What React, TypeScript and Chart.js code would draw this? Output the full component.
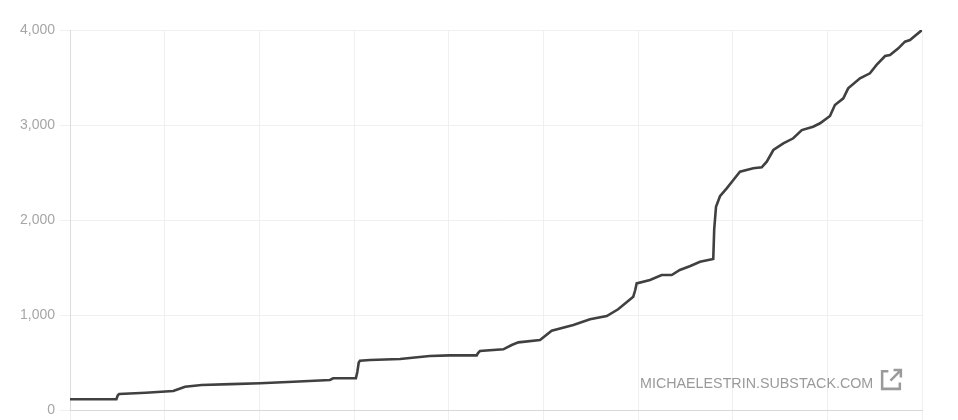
import React, { useEffect, useRef } from "react";
import { Chart, registerables } from "chart.js";

Chart.register(...registerables);

const xValues: number[] = [
  0, 49, 50.5, 52, 80, 109, 115, 121.5, 139, 170,
  200.7, 236, 274.6, 278, 302, 303.5, 305, 306.3, 317, 348.6,
  380, 401, 429.6, 431, 433, 457.7, 466.6, 473.6, 496.5, 508.8,
  531.7, 549.3, 567, 579, 595, 597, 598.6, 612.7, 625, 635.6,
  644.2, 655.3, 665.5, 679.5, 680.5, 682.4, 686.6, 693.7, 700.7, 707.7,
  721.8, 730.7, 736, 743, 753.5, 764, 773, 785, 792.3, 802.8,
  808, 816.9, 822, 834.5, 845, 852, 861, 866.2, 875, 882,
  887.3, 900,
];

const yValues: number[] = [
  113, 113, 155, 168, 182, 200, 222, 245, 263, 272,
  281, 298, 316, 334, 334, 400, 500, 519, 526, 537,
  568, 575, 575, 600, 621, 639, 684, 712, 737, 835,
  895, 955, 989, 1060, 1193, 1260, 1333, 1368, 1421, 1421,
  1474, 1516, 1561, 1589, 1900, 2140, 2250, 2333, 2421, 2509,
  2544, 2554, 2614, 2737, 2807, 2860, 2947, 2982, 3018, 3095,
  3210, 3281, 3386, 3491, 3544, 3632, 3726, 3737, 3807, 3877,
  3895, 4000,
];

const yTicks: number[] = [0, 1000, 2000, 3000, 4000];
const watermark = "MICHAELESTRIN.SUBSTACK.COM";

export default function App() {
  const ref = useRef<HTMLCanvasElement | null>(null);

  useEffect(() => {
    if (!ref.current) return;
    const points = xValues.map((x, i) => ({ x, y: yValues[i] }));
    const chart = new Chart(ref.current, {
      type: "line",
      data: {
        datasets: [
          {
            data: points,
            borderColor: "#404040",
            borderWidth: 2.6,
            pointRadius: 0,
            tension: 0,
            fill: false,
          },
        ],
      },
      options: {
        animation: false,
        responsive: false,
        layout: { padding: { top: 30, right: 36, bottom: 0, left: 0 } },
        plugins: { legend: { display: false }, tooltip: { enabled: false } },
        scales: {
          x: {
            type: "linear",
            min: 0,
            max: 900,
            ticks: { display: false, stepSize: 100 },
            grid: { color: "#f0f0f0", tickLength: 10, drawTicks: true },
            border: { color: "#d8d8d8" },
            afterFit: (scale: any) => {
              scale.height = 10;
              scale.paddingLeft = 0;
              scale.paddingRight = 0;
            },
          },
          y: {
            type: "linear",
            min: yTicks[0],
            max: yTicks[yTicks.length - 1],
            afterFit: (scale: any) => {
              scale.width = 70;
              scale.paddingTop = 0;
              scale.paddingBottom = 0;
            },
            afterBuildTicks: (scale: any) => {
              scale.ticks = yTicks.map((v) => ({ value: v }));
            },
            ticks: {
              color: "#a6a6a6",
              padding: 5,
              font: { family: "'Liberation Sans', Arial, sans-serif", size: 14, lineHeight: 1 },
              callback: (v: any) => Number(v).toLocaleString("en-US"),
            },
            grid: { color: "#f0f0f0", tickLength: 10, drawTicks: true },
            border: { color: "#dcdcdc" },
          },
        },
      },
    });
    return () => chart.destroy();
  }, []);

  return (
    <div style={{ position: "fixed", left: 0, top: 0, width: 958, height: 420, background: "#fff" }}>
      <canvas ref={ref} width={958} height={420} style={{ display: "block" }} />
      <div
        style={{
          position: "absolute",
          left: 640,
          top: 374,
          fontFamily: "'Liberation Sans', Arial, sans-serif",
          fontSize: 14.3,
          color: "#9a9a9a",
          lineHeight: "18px",
          display: "flex",
          alignItems: "center",
          whiteSpace: "nowrap",
        }}
      >
        <span>{watermark}</span>
        <svg width="25" height="25" viewBox="0 0 24 24" style={{ marginLeft: 6, marginTop: -7 }}>
          <path d="M9 4 H3 V21 H20 V15" fill="none" stroke="#9a9a9a" strokeWidth="2.4" />
          <path d="M11 13 L21 3 M14 3 H21 V10" fill="none" stroke="#9a9a9a" strokeWidth="2.4" />
        </svg>
      </div>
    </div>
  );
}
